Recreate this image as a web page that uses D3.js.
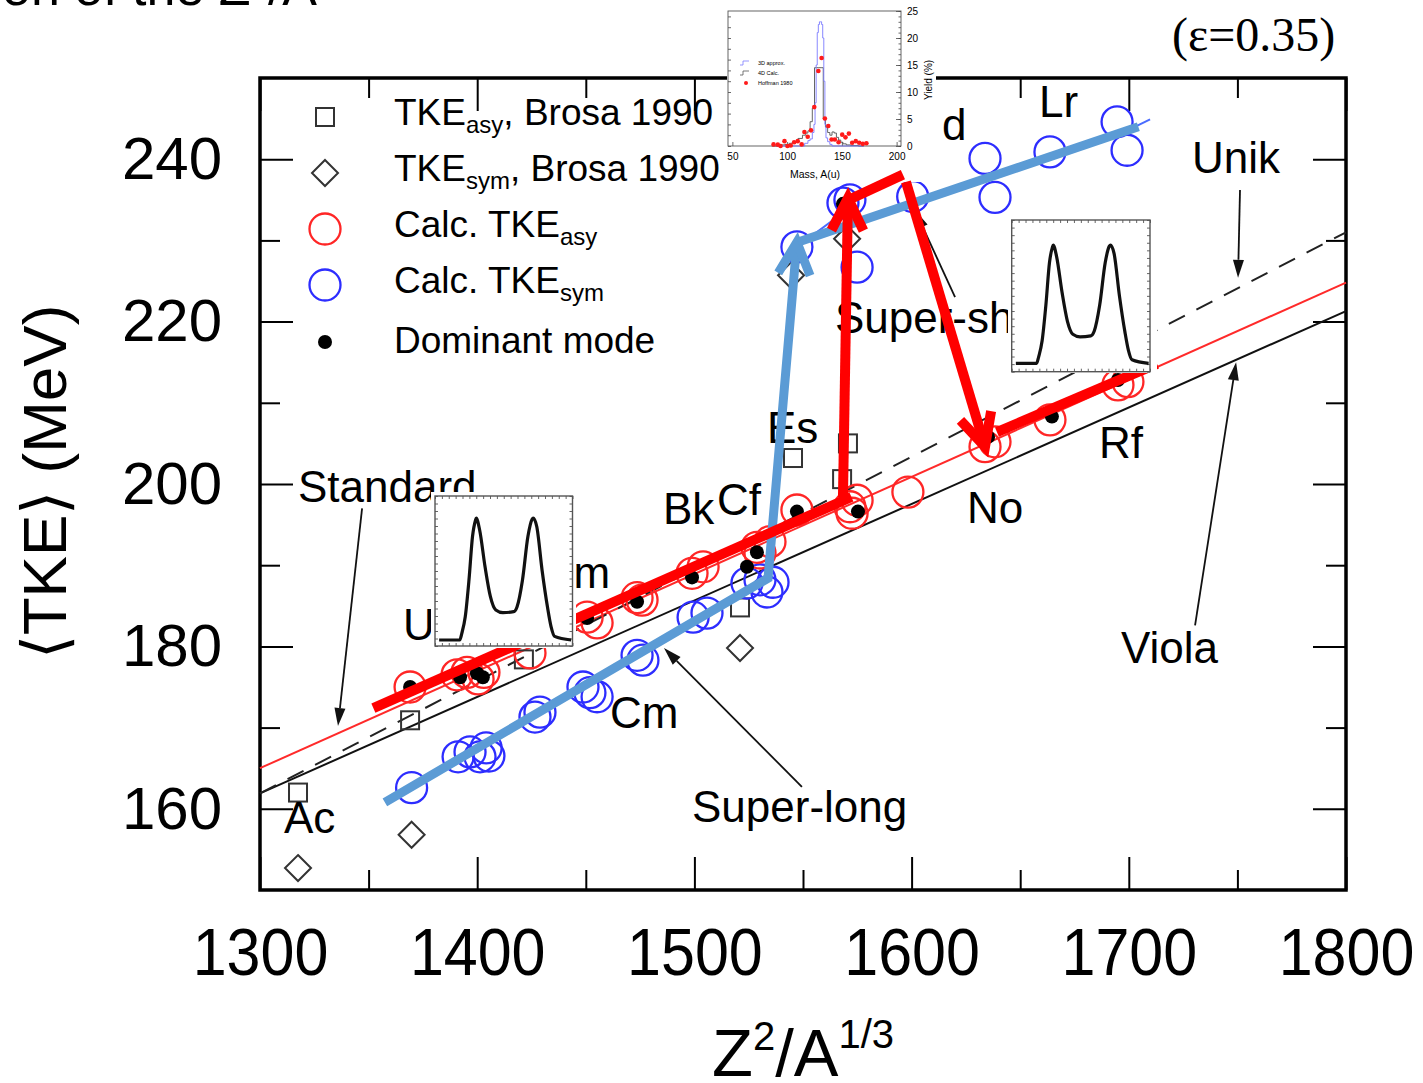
<!DOCTYPE html>
<html><head><meta charset="utf-8">
<script src="https://cdn.jsdelivr.net/npm/d3@7/dist/d3.min.js"></script>
<style>
body{margin:0;background:#fff;}
svg text{font-family:"Liberation Sans",Arial,Helvetica,sans-serif;fill:#000;}
</style></head>
<body>
<svg id="chart" width="1423" height="1083"></svg>
<script>
// ---------------- data ----------------
const xTicks=[1300,1400,1500,1600,1700,1800];
const xMinorTicks=[1350,1450,1550,1650,1750];
const yTicks=[160,180,200,220,240];
const yMinorTicks=[170,190,210,230];

const brosaAsy=[[1317.5,162.0],[1369.1,170.9],[1421.5,178.4],[1521.0,184.8],[1545.4,203.2],[1568.0,200.6],[1570.7,205.0]];
const brosaSym=[[1317.5,152.7],[1369.8,156.8],[1521.0,179.8],[1544.5,225.7],[1570.3,230.2]];

const calcTkeAsy=[[1369.1,175.0],[1390.7,176.5],[1395.3,176.8],[1400.4,176.0],[1403.1,176.8],[1424.3,179.2],
 [1450.6,183.6],[1455.2,182.9],[1473.6,186.0],[1475.9,185.7],[1498.9,189.0],[1504.0,189.8],[1528.8,192.2],
 [1534.8,192.9],[1530.2,191.5],[1547.2,196.8],[1571.6,197.2],[1574.9,198.0],[1572.6,196.4],[1598.3,199.0],
 [1633.8,204.6],[1638.4,205.2],[1663.7,207.9],[1695.0,212.2],[1699.6,212.6]];

const calcTkeSym=[[1369.8,162.6],[1391.2,166.4],[1396.7,167.0],[1401.3,166.4],[1404.1,167.5],[1405.4,166.5],
 [1426.6,171.3],[1428.9,171.9],[1448.7,175.0],[1451.9,174.3],[1455.2,173.8],[1473.6,178.9],[1476.3,178.3],
 [1499.4,183.6],[1505.8,184.1],[1524.2,187.8],[1530.2,188.2],[1536.2,187.9],[1533.4,186.7],
 [1547.2,229.2],[1568.4,234.6],[1571.6,235.0],[1574.9,226.7],[1600.5,235.4],
 [1633.8,240.1],[1638.4,235.3],[1663.7,240.9],[1694.6,244.6],[1699.2,241.1]];

const dominantMode=[[1369.1,175.0],[1392.1,176.2],[1399.9,176.7],[1402.6,176.2],[1450.6,183.5],[1473.6,185.5],
 [1498.9,188.5],[1524.2,189.8],[1528.8,191.6],[1547.2,196.6],[1575.3,196.6],[1568.4,234.5],[1635.2,205.8],
 [1664.6,208.3],[1695.0,212.8]];

const violaLine=[[1300,161.9],[1800,221.3]];
const unikLine=[[1300,161.9],[1800,231.0]];
const standardLine=[[1300,165.0],[1800,224.8]];

const elementLabels=[["Ac",1311.0,157.0],["U",1365.8,180.8],["Am",1430.8,187.2],["Cm",1461.1,170.0],
 ["Bk",1485.5,195.1],["Cf",1510.4,196.2],["Es",1533.4,205.0],["d",1614.0,242.4],["Lr",1658.7,245.2],
 ["No",1625.5,195.2],["Rf",1686.3,203.2]];
const curveLabels=[["Standard",1317.5,197.8],["Unik",1729.1,238.3],["Viola",1696.4,178.0],
 ["Super-long",1498.9,158.4],["Super-short",1564.7,218.6]];
const labelArrows=[[[1347.0,197.0],[1335.9,170.2]],[[1751.2,236.2],[1750.3,225.4]],
 [[1730.5,182.6],[1749.4,215.0]],[[1549.5,162.7],[1486.0,179.8]],[[1620.0,223.0],[1601.6,233.7]]];

const redPathA=[[1352.2,172.4],[1572.3,198.4]];
const redArrowUp=[[1568.4,198.4],[1570.7,235.2]];
const redPathB=[[1572.6,235.2],[1596.0,238.1]];
const redArrowDown=[[1597.4,237.2],[1633.8,204.6]];
const redPathC=[[1639.3,206.4],[1713.0,214.8]];
const bluePathA=[[1357.5,160.8],[1533.9,188.4]];
const blueArrowUp=[[1533.9,188.4],[1547.2,229.8]];
const bluePathB=[[1547.8,229.8],[1704.4,244.0]];
const blueThinA=[[1547.2,229.2],[1568.4,233.4]];
const blueThinB=[[1703.0,244.0],[1709.8,244.9]];

// inset: mass distribution
const mass3D=[90,114,118,120,122,124,125,126,127,128,129,130,131,132,133,134,135,136,138,140,142,170];
const yield3D=[0,0,0.5,1,1.3,2.5,4,8,15,21,22.5,23,23,22.5,20,12,4,1.5,0.8,0.3,0,0];
const mass4D=[86,96,100,104,108,112,116,118,120,122,124,126,128,130,132,134,136,138,140,142,144,146,148,150,152,156,160,170];
const yield4D=[0,0.2,0.3,0.5,0.8,1.4,2.0,2.4,2.8,4.5,7,14.5,14.5,14.5,14.5,5,3.5,2.5,2,2.6,2.4,1.6,1.1,0.7,0.4,0.2,0.1,0];
const hoffmanMass=[87.6,91.5,94.0,97.6,100.3,103.3,106.4,109.7,113.3,115.8,118.8,121.8,124.8,128.5,131.5,134.5,137.6,140.6,143.6,147.0,150.3,153.3,156.4,159.4,162.7,165.8,169.1,172.4];
const hoffmanYield=[0.3,0.25,0,0.9,0,0.1,0.7,0.9,0.3,2.6,1.7,2.9,7.2,13.9,16.3,5.1,3.7,1.2,1.2,0.7,2.1,1.6,2.3,0.6,0.9,0.6,0.4,0.5];
const miniXTicks=[50,100,150,200];
const miniYTicks=[0,5,10,15,20,25];
const miniLegend=["3D approx.","4D Calc.","Hoffman 1980"];

// inset: double-humped distribution profile
const humpU=[0.03,0.18,0.195,0.22,0.247,0.273,0.294,0.30,0.325,0.364,0.403,0.442,0.494,0.572,0.597,0.636,0.676,0.706,0.714,0.74,0.779,0.818,0.844,0.87,0.99];
const humpV=[0,0,0.055,0.19,0.49,0.85,0.98,1.0,0.9,0.6,0.355,0.246,0.224,0.232,0.273,0.49,0.85,0.99,1.0,0.93,0.57,0.27,0.11,0.03,0];

// ---------------- drawing ----------------
const svg=d3.select("#chart");
const x=d3.scaleLinear().domain([1300,1800]).range([260,1346]);
const y=d3.scaleLinear().domain([150,250]).range([890,78]);
const P=d=>[x(d[0]),y(d[1])];
const line=d3.line().x(d=>x(d[0])).y(d=>y(d[1]));

svg.append("text").attr("x",2).attr("y",5).attr("font-size",52).text("on of the Z²/A");
svg.append("text").attr("x",1172).attr("y",51).attr("font-size",48)
  .style("font-family","'Liberation Serif','Times New Roman',serif").text("(ε=0.35)");

function styleAxis(g){g.select(".domain").remove();g.selectAll("line").attr("stroke","#000").attr("stroke-width",2);}
svg.append("g").attr("transform","translate(260,0)")
  .call(d3.axisLeft(y).tickValues(yTicks).tickSize(-33).tickPadding(38).tickFormat(d3.format("d")))
  .call(styleAxis).call(g=>g.selectAll("text").attr("font-size",60));
svg.append("g").attr("transform","translate(260,0)")
  .call(d3.axisLeft(y).tickValues(yMinorTicks).tickSize(-20).tickFormat("")).call(styleAxis);
svg.append("g").attr("transform","translate(1346,0)")
  .call(d3.axisRight(y).tickValues(yTicks).tickSize(-33).tickFormat("")).call(styleAxis);
svg.append("g").attr("transform","translate(1346,0)")
  .call(d3.axisRight(y).tickValues(yMinorTicks).tickSize(-20).tickFormat("")).call(styleAxis);
svg.append("g").attr("transform","translate(0,890)")
  .call(d3.axisBottom(x).tickValues(xTicks).tickSize(-33).tickPadding(37).tickFormat(d3.format("d")))
  .call(styleAxis).call(g=>g.selectAll("text").attr("font-size",67).attr("transform","scale(0.91,1)"));
svg.append("g").attr("transform","translate(0,890)")
  .call(d3.axisBottom(x).tickValues(xMinorTicks).tickSize(-20).tickFormat("")).call(styleAxis);
svg.append("g").attr("transform","translate(0,78)")
  .call(d3.axisTop(x).tickValues(xTicks).tickSize(-33).tickFormat("")).call(styleAxis);
svg.append("g").attr("transform","translate(0,78)")
  .call(d3.axisTop(x).tickValues(xMinorTicks).tickSize(-20).tickFormat("")).call(styleAxis);
svg.append("rect").attr("x",x(1300)).attr("y",y(250)).attr("width",x(1800)-x(1300)).attr("height",y(150)-y(250))
  .attr("fill","none").attr("stroke","#000").attr("stroke-width",3.5);

// reference lines
svg.append("path").attr("d",line(standardLine)).attr("fill","none").attr("stroke","#ff2a2a").attr("stroke-width",2);
svg.append("path").attr("d",line(violaLine)).attr("fill","none").attr("stroke","#111").attr("stroke-width",2);
svg.append("path").attr("d",line(unikLine)).attr("fill","none").attr("stroke","#222").attr("stroke-width",2).attr("stroke-dasharray","18,13");

// markers
svg.append("g").selectAll("rect").data(brosaAsy).join("rect")
  .attr("x",d=>x(d[0])-9).attr("y",d=>y(d[1])-9).attr("width",18).attr("height",18)
  .attr("fill","none").attr("stroke","#333").attr("stroke-width",2);
const diamond=(cx,cy,r)=>`M${cx},${cy-r}L${cx+r},${cy}L${cx},${cy+r}L${cx-r},${cy}Z`;
svg.append("g").selectAll("path").data(brosaSym).join("path")
  .attr("d",d=>diamond(x(d[0]),y(d[1]),13)).attr("fill","none").attr("stroke","#333").attr("stroke-width",2);
svg.append("g").selectAll("circle").data(calcTkeSym).join("circle")
  .attr("cx",d=>x(d[0])).attr("cy",d=>y(d[1])).attr("r",15.5)
  .attr("fill","none").attr("stroke","#2d2dff").attr("stroke-width",2.3);
svg.append("g").selectAll("circle").data(calcTkeAsy).join("circle")
  .attr("cx",d=>x(d[0])).attr("cy",d=>y(d[1])).attr("r",15.5)
  .attr("fill","none").attr("stroke","#ff2626").attr("stroke-width",2.3);
svg.append("g").selectAll("circle").data(dominantMode).join("circle")
  .attr("cx",d=>x(d[0])).attr("cy",d=>y(d[1])).attr("r",7).attr("fill","#000");

// thin annotation arrows
labelArrows.forEach(([a,b])=>{
  const [x0,y0]=P(a),[x1,y1]=P(b);const ang=Math.atan2(y1-y0,x1-x0);const L=18,W=5.5;
  const bx=x1-L*Math.cos(ang),by=y1-L*Math.sin(ang);
  svg.append("line").attr("x1",x0).attr("y1",y0).attr("x2",bx).attr("y2",by).attr("stroke","#111").attr("stroke-width",1.8);
  svg.append("path").attr("d",`M${x1},${y1}L${bx-W*Math.sin(ang)},${by+W*Math.cos(ang)}L${bx+W*Math.sin(ang)},${by-W*Math.cos(ang)}Z`).attr("fill","#111");
});

// labels
svg.append("g").selectAll("text").data(elementLabels.concat(curveLabels)).join("text")
  .attr("x",d=>x(d[1])).attr("y",d=>y(d[2])).attr("font-size",44).text(d=>d[0]);

// legend
const lg=svg.append("g");
lg.append("rect").attr("x",316).attr("y",108).attr("width",18).attr("height",18).attr("fill","none").attr("stroke","#333").attr("stroke-width",2);
lg.append("path").attr("d",diamond(325,173,13)).attr("fill","none").attr("stroke","#333").attr("stroke-width",2);
lg.append("circle").attr("cx",325).attr("cy",229).attr("r",15.5).attr("fill","none").attr("stroke","#ff2626").attr("stroke-width",2.3);
lg.append("circle").attr("cx",325).attr("cy",285).attr("r",15.5).attr("fill","none").attr("stroke","#2d2dff").attr("stroke-width",2.3);
lg.append("circle").attr("cx",325).attr("cy",342).attr("r",7).attr("fill","#000");
const legendRows=[["TKE","asy",", Brosa 1990",125],["TKE","sym",", Brosa 1990",181],["Calc. TKE","asy","",237],["Calc. TKE","sym","",293],["Dominant mode","","",353]];
legendRows.forEach(r=>{
  const t=lg.append("text").attr("x",394).attr("y",r[3]).attr("font-size",37);
  t.append("tspan").text(r[0]);
  if(r[1]){t.append("tspan").attr("font-size",24).attr("dy",8).text(r[1]);}
  if(r[2]){t.append("tspan").attr("dy",-8).text(r[2]);}
});

// axis titles
const xt=svg.append("text").attr("x",803).attr("y",1076).attr("text-anchor","middle").attr("font-size",67);
xt.append("tspan").text("Z");
xt.append("tspan").attr("font-size",40).attr("dy",-26).text("2");
xt.append("tspan").attr("dy",26).text("/A");
xt.append("tspan").attr("font-size",40).attr("dy",-28).text("1/3");
svg.append("text").attr("transform","translate(66,482) rotate(-90)").attr("text-anchor","middle").attr("font-size",62)
  .text("⟨TKE⟩ (MeV)");

// ---- top inset: mass distribution ----
const ti=svg.append("g");
ti.append("clipPath").attr("id","tiClip").append("rect").attr("x",727).attr("y",0).attr("width",209).attr("height",182);
const tg=ti.append("g").attr("clip-path","url(#tiClip)");
tg.append("rect").attr("x",727).attr("y",0).attr("width",209).attr("height",182).attr("fill","#fff");
const mx=d3.scaleLinear().domain([46,204]).range([728,901]);
const my=d3.scaleLinear().domain([0,25]).range([146,11]);
function miniAxis(g){g.select(".domain").remove();g.selectAll("line").attr("stroke","#444").attr("stroke-width",0.8);g.selectAll("text").attr("font-size",10);}
tg.append("g").attr("transform","translate(901,0)").call(d3.axisRight(my).tickValues(miniYTicks).tickSize(-5).tickPadding(6)).call(miniAxis);
tg.append("g").attr("transform","translate(901,0)").call(d3.axisRight(my).ticks(25).tickSize(-2.5).tickFormat("")).call(miniAxis);
tg.append("g").attr("transform","translate(728,0)").call(d3.axisLeft(my).ticks(10).tickSize(-3).tickFormat("")).call(miniAxis);
tg.append("g").attr("transform","translate(0,146)").call(d3.axisBottom(mx).tickValues(miniXTicks).tickSize(-4).tickPadding(7)).call(miniAxis);
tg.append("rect").attr("x",728).attr("y",11).attr("width",173).attr("height",135).attr("fill","none").attr("stroke","#555").attr("stroke-width",0.9);
const ml=d3.line().curve(d3.curveStep);
tg.append("path").attr("d",ml(mass4D.map((m,i)=>[mx(m),my(yield4D[i])]))).attr("fill","none").attr("stroke","#555").attr("stroke-width",0.9);
tg.append("path").attr("d",ml(mass3D.map((m,i)=>[mx(m),my(yield3D[i])]))).attr("fill","none").attr("stroke","#7b7bff").attr("stroke-width",0.9);
tg.append("g").selectAll("circle").data(hoffmanMass).join("circle")
  .attr("cx",d=>mx(d)).attr("cy",(d,i)=>my(hoffmanYield[i])).attr("r",2.3).attr("fill","#ff1a1a");
tg.append("text").attr("x",815).attr("y",178).attr("text-anchor","middle").attr("font-size",10.5).text("Mass, A(u)");
tg.append("text").attr("transform","translate(932,80) rotate(-90)").attr("text-anchor","middle").attr("font-size",10).text("Yield (%)");
const lgY=[63,73,83];
tg.append("path").attr("d","M740,65L743,65L743,61L749,61").attr("fill","none").attr("stroke","#7b7bff").attr("stroke-width",0.8);
tg.append("path").attr("d","M740,75L743,75L743,71L749,71").attr("fill","none").attr("stroke","#555").attr("stroke-width",0.8);
tg.append("circle").attr("cx",746).attr("cy",83).attr("r",2).attr("fill","#ff1a1a");
tg.append("g").selectAll("text").data(miniLegend).join("text")
  .attr("x",758).attr("y",(d,i)=>lgY[i]+2).attr("font-size",5.5).text(d=>d);

// ---- overlay thick arrows ----
function thick(pts,color,w){svg.append("path").attr("d",line(pts)).attr("fill","none").attr("stroke",color).attr("stroke-width",w).attr("stroke-linecap","butt").attr("stroke-linejoin","miter");}
function vHead(from,tip,color,w){
  const [x0,y0]=P(from),[x1,y1]=P(tip);const a=Math.atan2(y1-y0,x1-x0);const L=36,t=0.46;
  const w1=[x1-L*Math.cos(a-t),y1-L*Math.sin(a-t)],w2=[x1-L*Math.cos(a+t),y1-L*Math.sin(a+t)];
  svg.append("path").attr("d",`M${w1}L${x1},${y1}L${w2}`).attr("fill","none").attr("stroke",color).attr("stroke-width",w).attr("stroke-linejoin","miter");
}
const RED="#ff0000",BLUE="#5b9bd5";
[blueThinA,blueThinB].forEach(p=>svg.append("path").attr("d",line(p)).attr("fill","none").attr("stroke","#4a6cff").attr("stroke-width",2));
thick(bluePathA.concat([blueArrowUp[1]]),BLUE,9);
vHead(blueArrowUp[0],blueArrowUp[1],BLUE,9);
thick(bluePathB,BLUE,9);
thick(redPathA,RED,10);
thick(redArrowUp,RED,10);vHead(redArrowUp[0],redArrowUp[1],RED,10);
thick(redPathB,RED,10);
thick(redArrowDown,RED,10);vHead(redArrowDown[0],redArrowDown[1],RED,10);
thick(redPathC,RED,10);

// ---- double-humped insets ----
function humpInset(ox,oy,ow,oh,ix0,iy0,ix1,iy1,base,peak){
  const g=svg.append("g");
  g.append("rect").attr("x",ox).attr("y",oy).attr("width",ow).attr("height",oh).attr("fill","#fff");
  const hx=d3.scaleLinear().domain([0,1]).range([ix0,ix1]);
  const hy=d3.scaleLinear().domain([0,1]).range([base,peak]);
  const fy=d3.scaleLinear().domain([0,1]).range([iy1,iy0]);
  const st=s=>{s.select(".domain").remove();s.selectAll("line").attr("stroke","#666").attr("stroke-width",1);};
  g.append("g").attr("transform",`translate(0,${iy1})`).call(d3.axisBottom(hx).ticks(16).tickSize(-3).tickFormat("")).call(st);
  g.append("g").attr("transform",`translate(0,${iy0})`).call(d3.axisTop(hx).ticks(16).tickSize(-3).tickFormat("")).call(st);
  g.append("g").attr("transform",`translate(${ix0},0)`).call(d3.axisLeft(fy).ticks(16).tickSize(-3).tickFormat("")).call(st);
  g.append("g").attr("transform",`translate(${ix1},0)`).call(d3.axisRight(fy).ticks(16).tickSize(-3).tickFormat("")).call(st);
  g.append("rect").attr("x",ix0).attr("y",iy0).attr("width",ix1-ix0).attr("height",iy1-iy0).attr("fill","none").attr("stroke","#555").attr("stroke-width",1.4);
  g.append("path").attr("d",d3.line().curve(d3.curveMonotoneX)(humpU.map((u,i)=>[hx(u),hy(humpV[i])])))
    .attr("fill","none").attr("stroke","#111").attr("stroke-width",3.2);
}
humpInset(431,492,145,156,435,496,572.5,646,640,518);
humpInset(1008,216,149,157,1011.7,220,1150,371.7,363.3,245);
</script>
</body></html>
